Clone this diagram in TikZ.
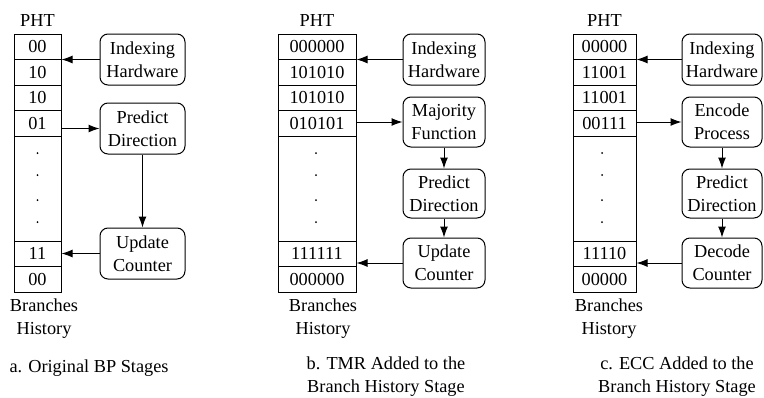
\documentclass[tikz,border=0pt]{standalone}
\usepackage{fontspec}
\setmainfont{Liberation Serif}
\usetikzlibrary{arrows.meta}

\begin{document}
\begin{tikzpicture}
	[x=1pt,y=-1pt,line width=1pt,every node/.style={font=\fontsize{18.3}{23}\selectfont}]
	\tikzset{edge/.style = {-{Latex[length=11pt,width=8pt]}},
		cell/.style = {draw,inner sep=0,minimum height=25.5pt},
		stage/.style = {draw,rounded corners=8pt,align=center,inner sep=0,minimum height=51pt},
		label/.style = {align=center,anchor=north,inner sep=0}}
	\useasboundingbox (0,0) rectangle (764,397);

	% a. original stages
	\node (phtA) at (37.5,21) {PHT};
	\foreach \v [count=\i] in {00,10,10,01}
	\node[cell,minimum width=47pt] (a\i) at (37.5,21.25+25.5*\i) {\v};
	\node[cell,minimum width=47pt,minimum height=105pt] (a5) at (37.5,188.5) {};
	\node[cell,minimum width=47pt] (a6) at (37.5,253.75) {11};
	\node[cell,minimum width=47pt] (a7) at (37.5,279.25) {00};
	\foreach \y in {153,175,200,222}
	\fill (37.5,\y) circle (1pt);
	\node[label] (brA) at (44,298) {Branches\\History};

	\node[stage,minimum width=85pt] (ai) at (142.5,59.5) {Indexing\\Hardware};
	\node[stage,minimum width=85pt] (ap) at (142.5,128.5) {Predict\\Direction};
	\node[stage,minimum width=85pt] (au) at (142.5,253.5) {Update\\Counter};
	\coordinate (ta) at (ai.west -| a1.east);
	\coordinate (tp) at (ap.west -| a4.east);
	\coordinate (tu) at (au.west -| a6.east);

	% b. TMR
	\node (phtB) at (317,21) {PHT};
	\foreach \v [count=\i] in {000000,101010,101010,010101}
	\node[cell,minimum width=78pt] (b\i) at (317,21.25+25.5*\i) {\v};
	\node[cell,minimum width=78pt,minimum height=105pt] (b5) at (317,188.5) {};
	\node[cell,minimum width=78pt] (b6) at (317,253.75) {111111};
	\node[cell,minimum width=78pt] (b7) at (317,279.25) {000000};
	\foreach \y in {153,175,200,222}
	\fill (316,\y) circle (1pt);
	\node[label] (brB) at (323,298) {Branches\\History};

	\node[stage,minimum width=82pt] (bi) at (444,59.5) {Indexing\\Hardware};
	\node[stage,minimum width=82pt,minimum height=50pt] (bm) at (444,122) {Majority\\Function};
	\node[stage,minimum width=82pt,minimum height=49pt] (bp) at (444,193.5) {Predict\\Direction};
	\node[stage,minimum width=82pt,minimum height=50pt] (bu) at (444,263) {Update\\Counter};
	\coordinate (tbi) at (bi.west -| b1.east);
	\coordinate (tbm) at (bm.west -| b4.east);
	\coordinate (tbu) at (bu.west -| b6.east);

	% c. ECC
	\node (phtC) at (604.5,21) {PHT};
	\foreach \v [count=\i] in {00000,11001,11001,00111}
	\node[cell,minimum width=63pt] (c\i) at (604.5,21.25+25.5*\i) {\v};
	\node[cell,minimum width=63pt,minimum height=105pt] (c5) at (604.5,188.5) {};
	\node[cell,minimum width=63pt] (c6) at (604.5,253.75) {11110};
	\node[cell,minimum width=63pt] (c7) at (604.5,279.25) {00000};
	\foreach \y in {153,175,200,222}
	\fill (602,\y) circle (1pt);
	\node[label] (brC) at (609,298) {Branches\\History};

	\node[stage,minimum width=80pt] (ci) at (722,59.5) {Indexing\\Hardware};
	\node[stage,minimum width=80pt,minimum height=50pt] (ce) at (722,122) {Encode\\Process};
	\node[stage,minimum width=80pt,minimum height=49pt] (cp) at (722,193.5) {Predict\\Direction};
	\node[stage,minimum width=80pt,minimum height=50pt] (cd) at (722,263) {Decode\\Counter};
	\coordinate (tci) at (ci.west -| c1.east);
	\coordinate (tce) at (ce.west -| c4.east);
	\coordinate (tcd) at (cd.west -| c6.east);

	\foreach \from/\to in {ai.west/ta,tp/ap.west,ap/au,au.west/tu,
		bi.west/tbi,tbm/bm.west,bm/bp,bp/bu,bu.west/tbu,
		ci.west/tci,tce/ce.west,ce/cp,cp/cd,cd.west/tcd}
	\draw[edge] (\from)--(\to);

	% captions
	\node[anchor=base west,inner sep=0] (capA) at (9,372) {a. Original BP Stages};
	\node[label] (capB) at (386,356) {b. TMR Added to the\\Branch History Stage};
	\node[label] (capC) at (677,356) {c. ECC Added to the\\Branch History Stage};
\end{tikzpicture}
\end{document}
